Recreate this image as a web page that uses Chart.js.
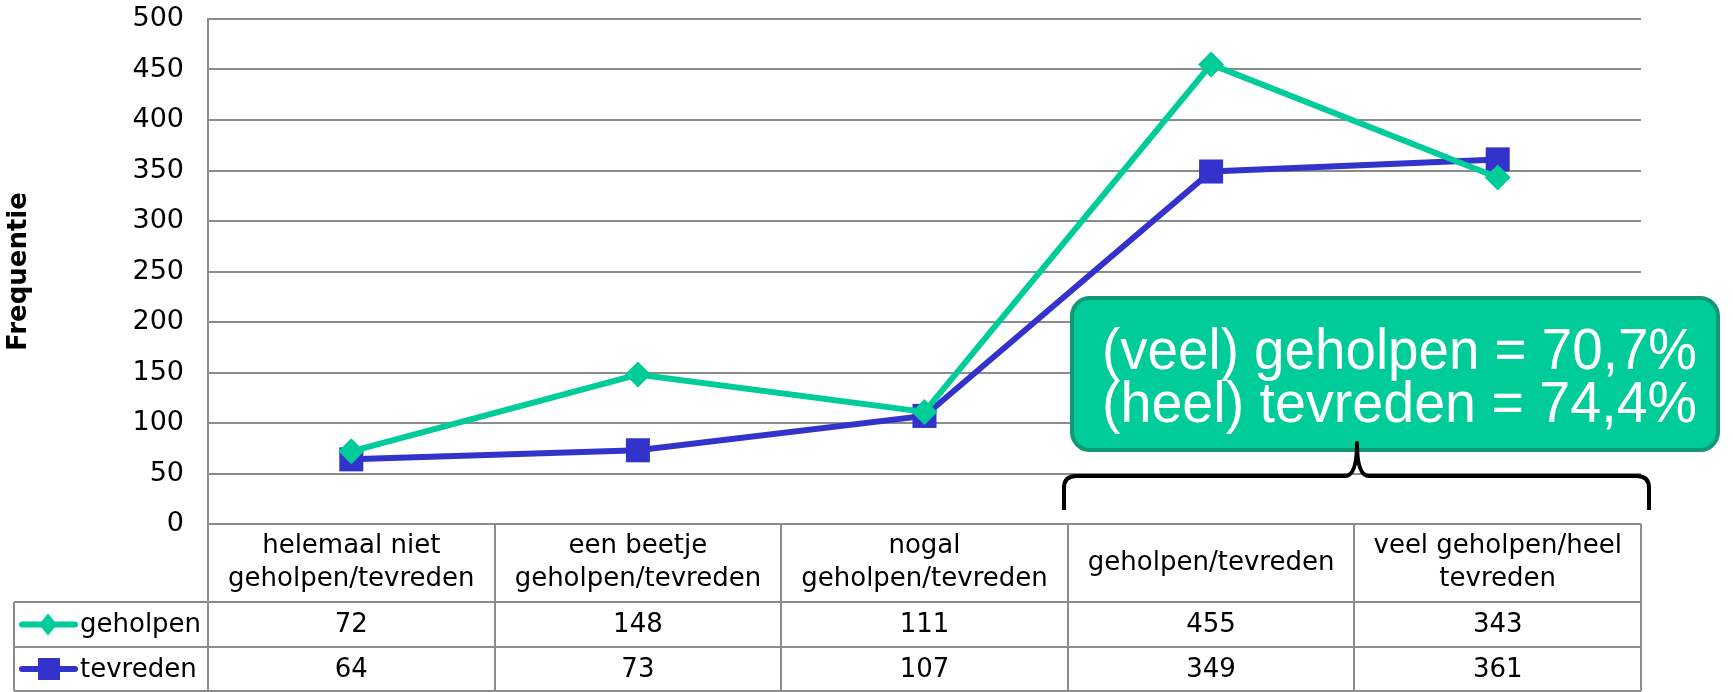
<!DOCTYPE html>
<html>
<head>
<meta charset="utf-8">
<script src="https://cdn.jsdelivr.net/npm/chart.js@4"></script>
<style>
  html, body { margin: 0; padding: 0; background: #fff; }
  #wrap { width: 1733px; height: 692px; }
</style>
</head>
<body>
<div id="wrap"><canvas id="freqChart" width="1733" height="692"></canvas></div>
<script>
// data
const categories = [
  ["helemaal niet", "geholpen/tevreden"],
  ["een beetje", "geholpen/tevreden"],
  ["nogal", "geholpen/tevreden"],
  ["geholpen/tevreden"],
  ["veel geholpen/heel", "tevreden"]
];
const geholpen = [72, 148, 111, 455, 343];
const tevreden = [64, 73, 107, 349, 361];
const yTicks = [0, 50, 100, 150, 200, 250, 300, 350, 400, 450, 500];
const calloutLines = ["(veel) geholpen = 70,7%", "(heel) tevreden = 74,4%"];

const GREEN = "#00cc99";
const BLUE = "#3333cc";
const GRID = "#8c8c8c";

// data table under the plot + callout with brace
const tablePlugin = {
  id: "tablePlugin",
  afterDraw(chart) {
    const ctx = chart.ctx;
    const area = chart.chartArea;
    const xs = chart.scales.x;
    const n = categories.length;
    const colW = (area.right - area.left) / n;
    const headTop = area.bottom;
    const headBottom = 602;
    const row1Bottom = 647;
    const row2Bottom = 691;
    const tableLeft = 14;

    ctx.save();
    ctx.strokeStyle = GRID;
    ctx.lineWidth = 2;
    ctx.beginPath();
    // vertical column lines
    for (let i = 0; i <= n; i++) {
      const x = Math.round(area.left + i * colW);
      ctx.moveTo(x, headTop);
      ctx.lineTo(x, row2Bottom);
    }
    ctx.moveTo(tableLeft, headBottom);
    ctx.lineTo(tableLeft, row2Bottom);
    // horizontal rows
    [headBottom, row1Bottom, row2Bottom].forEach(function (y) {
      ctx.moveTo(tableLeft, y);
      ctx.lineTo(area.right, y);
    });
    ctx.stroke();

    ctx.fillStyle = "#000";
    ctx.textAlign = "center";
    ctx.textBaseline = "middle";
    ctx.font = "26px 'DejaVu Sans'";
    categories.forEach(function (lab, i) {
      const cx = xs.getPixelForValue(i);
      if (lab.length === 1) {
        ctx.fillText(lab[0], cx, (headTop + headBottom) / 2);
      } else {
        ctx.fillText(lab[0], cx, 546);
        ctx.fillText(lab[1], cx, 579);
      }
      ctx.fillText(String(geholpen[i]), cx, (headBottom + row1Bottom) / 2 + 1);
      ctx.fillText(String(tevreden[i]), cx, (row1Bottom + row2Bottom) / 2 + 1);
    });

    // legend keys inside the table
    const rows = [
      { label: "geholpen", color: GREEN, y: (headBottom + row1Bottom) / 2, shape: "diamond" },
      { label: "tevreden", color: BLUE, y: (row1Bottom + row2Bottom) / 2, shape: "square" }
    ];
    rows.forEach(function (r) {
      ctx.strokeStyle = r.color;
      ctx.fillStyle = r.color;
      ctx.lineWidth = 6;
      ctx.lineCap = "round";
      ctx.beginPath();
      ctx.moveTo(22, r.y);
      ctx.lineTo(75, r.y);
      ctx.stroke();
      ctx.beginPath();
      if (r.shape === "diamond") {
        ctx.moveTo(48, r.y - 11);
        ctx.lineTo(57, r.y);
        ctx.lineTo(48, r.y + 11);
        ctx.lineTo(39, r.y);
        ctx.closePath();
      } else {
        ctx.rect(38, r.y - 11, 22, 22);
      }
      ctx.fill();
      ctx.fillStyle = "#000";
      ctx.textAlign = "left";
      ctx.fillText(r.label, 80, r.y + 1);
    });

    // callout box
    const bx = 1072, by = 298, bw = 646, bh = 152, rad = 18;
    ctx.beginPath();
    ctx.roundRect(bx, by, bw, bh, rad);
    ctx.fillStyle = GREEN;
    ctx.fill();
    ctx.lineWidth = 4;
    ctx.strokeStyle = "#119977";
    ctx.stroke();

    ctx.fillStyle = "#fff";
    ctx.textAlign = "left";
    ctx.textBaseline = "middle";
    ctx.font = "57px 'Liberation Sans'";
    const textW = 595;
    calloutLines.forEach(function (t, i) {
      const w = ctx.measureText(t).width;
      ctx.save();
      ctx.translate(1102, i === 0 ? 353 : 406);
      ctx.scale(textW / w, 1);
      ctx.fillText(t, 0, 0);
      ctx.restore();
    });

    // curly brace
    ctx.strokeStyle = "#000";
    ctx.lineWidth = 4;
    ctx.lineCap = "butt";
    ctx.lineJoin = "round";
    const l = 1064, r = 1649, tip = 1357, yb = 476, yEnd = 510, yTip = 443, c = 12;
    ctx.beginPath();
    ctx.moveTo(l, yEnd);
    ctx.lineTo(l, yb + c);
    ctx.quadraticCurveTo(l, yb, l + c, yb);
    ctx.lineTo(tip - c, yb);
    ctx.quadraticCurveTo(tip, yb, tip, yTip);
    ctx.quadraticCurveTo(tip, yb, tip + c, yb);
    ctx.lineTo(r - c, yb);
    ctx.quadraticCurveTo(r, yb, r, yb + c);
    ctx.lineTo(r, yEnd);
    ctx.stroke();
    ctx.restore();
  }
};

new Chart(document.getElementById("freqChart").getContext("2d"), {
  type: "line",
  data: {
    labels: categories,
    datasets: [
      {
        label: "geholpen",
        data: geholpen,
        borderColor: GREEN,
        backgroundColor: GREEN,
        borderWidth: 6,
        pointStyle: "rectRot",
        pointRadius: 13,
        pointBorderWidth: 0,
        tension: 0
      },
      {
        label: "tevreden",
        data: tevreden,
        borderColor: BLUE,
        backgroundColor: BLUE,
        borderWidth: 6,
        pointStyle: "rect",
        pointRadius: 17,
        pointBorderWidth: 0,
        tension: 0
      }
    ]
  },
  options: {
    responsive: false,
    animation: false,
    layout: { autoPadding: false, padding: { top: 0, right: 92, bottom: 168, left: 0 } },
    plugins: {
      legend: { display: false },
      tooltip: { enabled: false }
    },
    scales: {
      x: {
        offset: true,
        display: false,
        grid: { display: false }
      },
      y: {
        min: 0,
        max: 500,
        afterBuildTicks: function (scale) {
          scale.ticks = yTicks.map(function (v) { return { value: v }; });
        },
        afterFit: function (scale) {
          scale.width = 208;
          scale.paddingTop = 19;
        },
        grid: { color: GRID, lineWidth: 2, drawTicks: false },
        border: { color: GRID, width: 2 },
        ticks: {
          color: "#000",
          padding: 24,
          font: { family: "'DejaVu Sans'", size: 27 }
        },
        title: {
          display: true,
          text: "Frequentie",
          color: "#000",
          font: { family: "'DejaVu Sans'", size: 26, weight: "bold" }
        }
      }
    }
  },
  plugins: [tablePlugin]
});
</script>
</body>
</html>
